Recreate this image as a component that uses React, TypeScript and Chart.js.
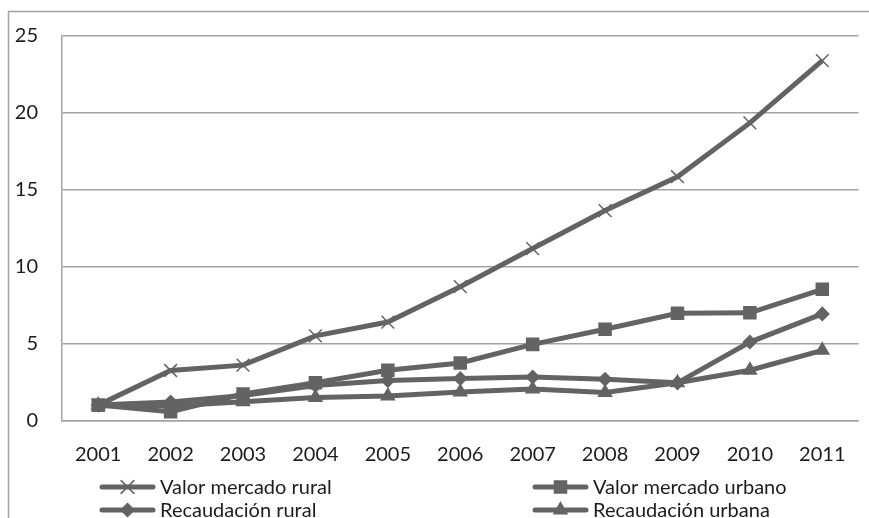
import React, { useEffect, useRef } from "react";
import { Chart, registerables } from "chart.js";
import { drawPoint } from "chart.js/helpers";

Chart.register(...registerables);

const years = ["2001", "2002", "2003", "2004", "2005", "2006", "2007", "2008", "2009", "2010", "2011"];
const valorMercadoRural = [1.0, 3.25, 3.6, 5.5, 6.4, 8.7, 11.18, 13.65, 15.85, 19.35, 23.4];
const valorMercadoUrbano = [1.0, 0.57, 1.72, 2.45, 3.27, 3.74, 4.95, 5.93, 6.97, 7.0, 8.53];
const recaudacionRural = [1.0, 1.2, 1.62, 2.28, 2.6, 2.73, 2.83, 2.68, 2.45, 5.1, 6.93];
const recaudacionUrbana = [1.0, 0.95, 1.22, 1.5, 1.6, 1.86, 2.04, 1.82, 2.45, 3.27, 4.56];
const seriesNames = ["Valor mercado rural", "Valor mercado urbano", "Recaudación rural", "Recaudación urbana"];
const yTicks = [0, 5, 10, 15, 20, 25];

const LINE = "#636363";
const GRID = "#a3a3a3";
const TEXT = "#1c1c1c";
const FONT = "Lato, 'Open Sans', sans-serif";

const styles = [
  { pointStyle: "crossRot", radius: 9, borderWidth: 1.5 },
  { pointStyle: "rect", radius: 8.5, borderWidth: 1.5 },
  { pointStyle: "rectRot", radius: 6.5, borderWidth: 1.5 },
  { pointStyle: "triangle", radius: 7.5, borderWidth: 1.5 },
];

const framePlugin = {
  id: "frame",
  beforeDraw(chart: any) {
    const ctx = chart.ctx;
    ctx.save();
    ctx.strokeStyle = GRID;
    ctx.lineWidth = 1.5;
    ctx.beginPath();
    ctx.moveTo(8.5, 518);
    ctx.lineTo(8.5, 11.5);
    ctx.lineTo(869, 11.5);
    ctx.stroke();
    ctx.restore();
  },
};

const legendPlugin = {
  id: "customLegend",
  afterDraw(chart: any) {
    const ctx = chart.ctx;
    const slots = [
      { x: 100, y: 487 },
      { x: 533, y: 487 },
      { x: 100, y: 510 },
      { x: 533, y: 510 },
    ];
    chart.data.datasets.forEach((ds: any, i: number) => {
      const s = slots[i];
      ctx.save();
      ctx.strokeStyle = LINE;
      ctx.lineWidth = 5;
      ctx.lineCap = "round";
      ctx.beginPath();
      ctx.moveTo(s.x + 2, s.y);
      ctx.lineTo(s.x + 53, s.y);
      ctx.stroke();
      ctx.fillStyle = LINE;
      ctx.strokeStyle = LINE;
      ctx.lineWidth = ds.pointBorderWidth;
      drawPoint(ctx, { pointStyle: ds.pointStyle, radius: ds.pointRadius, rotation: 0, borderWidth: ds.pointBorderWidth }, s.x + 27.5, s.y);
      ctx.fillStyle = TEXT;
      ctx.font = `20px ${FONT}`;
      ctx.textAlign = "left";
      ctx.textBaseline = "middle";
      ctx.fillText(ds.label, s.x + 60, s.y + 1);
      ctx.restore();
    });
  },
};

export default function App() {
  const ref = useRef<HTMLCanvasElement | null>(null);
  useEffect(() => {
    if (!ref.current) return;
    const allData = [valorMercadoRural, valorMercadoUrbano, recaudacionRural, recaudacionUrbana];
    const chart = new Chart(ref.current, {
      type: "line",
      data: {
        labels: years,
        datasets: allData.map((d, i) => ({
          label: seriesNames[i],
          data: d,
          borderColor: LINE,
          backgroundColor: LINE,
          borderWidth: 5,
          pointStyle: styles[i].pointStyle as any,
          pointRadius: styles[i].radius,
          pointBorderWidth: styles[i].borderWidth,
          pointBackgroundColor: LINE,
          pointBorderColor: LINE,
          tension: 0,
          fill: false,
          order: 4 - i,
        })),
      },
      options: {
        animation: false,
        responsive: false,
        maintainAspectRatio: false,
        layout: { padding: { left: 0, top: 34, right: 7, bottom: 0 } },
        plugins: {
          legend: { display: false },
          tooltip: { enabled: false },
        },
        scales: {
          x: {
            offset: true,
            grid: { display: false, drawTicks: false },
            border: { display: true, color: GRID, width: 1.5 },
            ticks: { color: TEXT, font: { family: FONT, size: 20 }, padding: 22, maxRotation: 0 },
            afterFit(scale: any) {
              scale.height = 97.5;
            },
          },
          y: {
            min: 0,
            max: 25,
            afterBuildTicks(scale: any) {
              scale.ticks = yTicks.map((v) => ({ value: v }));
            },
            grid: { color: GRID, lineWidth: 1.5, drawTicks: false },
            border: { display: true, color: GRID, width: 1.5 },
            ticks: { color: TEXT, font: { family: FONT, size: 20 }, padding: 24 },
            afterFit(scale: any) {
              scale.width = 62;
            },
          },
        },
      },
      plugins: [framePlugin, legendPlugin],
    });
    return () => chart.destroy();
  }, []);
  return (
    <div style={{ position: "fixed", left: 0, top: 0, width: 869, height: 518, background: "#fff" }}>
      <canvas ref={ref} width={869} height={518} style={{ width: 869, height: 518 }} />
    </div>
  );
}
